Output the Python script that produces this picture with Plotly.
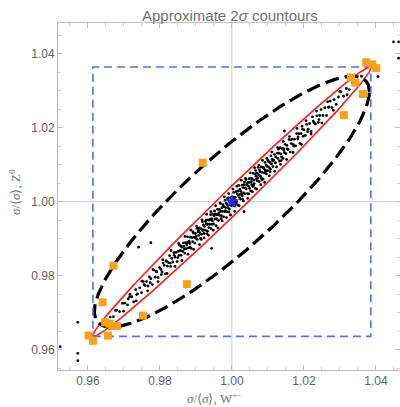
import numpy as np
import plotly.graph_objects as go

# ---------------- data ----------------
band_x_p1 = [1.0002,1.0004,1.0005,1.0007,1.0009,1.0010,1.0012,1.0013,1.0015,1.0016,1.0018,1.0019,1.0021,1.0022,1.0024,1.0025,1.0027,1.0028,1.0030,1.0031,1.0033,1.0034,1.0036,1.0037,1.0039,1.0040,1.0042,1.0043,1.0045,1.0046,1.0048,1.0049,1.0050]
band_y_p1 = [1.0013,0.9996,1.0025,0.9988,1.0012,1.0004,1.0027,1.0000,1.0021,0.9991,1.0017,1.0044,1.0011,1.0033,1.0007,1.0028,1.0022,1.0045,1.0006,1.0038,1.0024,1.0046,1.0021,1.0037,1.0060,1.0034,1.0048,1.0022,1.0052,1.0042,1.0062,1.0036,1.0052]
band_x_p2 = [1.0052,1.0053,1.0055,1.0056,1.0058,1.0059,1.0061,1.0062,1.0064,1.0065,1.0067,1.0068,1.0070,1.0071,1.0073,1.0074,1.0076,1.0078,1.0079,1.0081,1.0082,1.0084,1.0086,1.0087,1.0089,1.0090,1.0092,1.0093,1.0095,1.0096,1.0098,1.0099]
band_y_p2 = [1.0029,1.0063,1.0046,1.0062,1.0041,1.0077,1.0058,1.0049,1.0075,1.0036,1.0069,1.0061,1.0077,1.0056,1.0093,1.0073,1.0054,1.0081,1.0069,1.0094,1.0064,1.0079,1.0093,1.0061,1.0089,1.0078,1.0106,1.0085,1.0099,1.0075,1.0096,1.0084]
band_x_p3 = [1.0101,1.0103,1.0105,1.0106,1.0108,1.0110,1.0112,1.0114,1.0116,1.0118,1.0120,1.0122,1.0124,1.0126,1.0128,1.0130,1.0132,1.0134,1.0136,1.0138,1.0140,1.0142,1.0144,1.0146,1.0148,1.0150]
band_y_p3 = [1.0109,1.0093,1.0106,1.0081,1.0124,1.0102,1.0115,1.0095,1.0112,1.0128,1.0105,1.0121,1.0094,1.0131,1.0117,1.0131,1.0110,1.0146,1.0129,1.0121,1.0144,1.0117,1.0140,1.0133,1.0155,1.0130]
band_x_p4 = [1.0153,1.0156,1.0159,1.0162,1.0165,1.0168,1.0171,1.0174,1.0177,1.0180,1.0183,1.0186,1.0189,1.0192,1.0195,1.0198,1.0200]
band_y_p4 = [1.0152,1.0141,1.0168,1.0134,1.0157,1.0169,1.0154,1.0169,1.0151,1.0184,1.0170,1.0184,1.0158,1.0184,1.0204,1.0177,1.0194]
band_x_p5 = [1.0204,1.0208,1.0212,1.0216,1.0220,1.0224,1.0228,1.0232,1.0236,1.0240,1.0244,1.0248]
band_y_p5 = [1.0179,1.0209,1.0196,1.0211,1.0190,1.0229,1.0214,1.0210,1.0232,1.0214,1.0233,1.0249]
band_x_p6 = [1.0253,1.0258,1.0263,1.0268,1.0273,1.0278,1.0284,1.0290,1.0296,1.0303,1.0310,1.0318,1.0326,1.0335,1.0346,1.0360]
band_y_p6 = [1.0233,1.0254,1.0233,1.0255,1.0272,1.0254,1.0276,1.0263,1.0283,1.0297,1.0285,1.0306,1.0303,1.0321,1.0327,1.0339]
band_x_n1 = [0.9999,0.9997,0.9995,0.9994,0.9992,0.9990,0.9989,0.9987,0.9986,0.9984,0.9983,0.9981,0.9980,0.9978,0.9977,0.9975,0.9974,0.9972,0.9971,0.9969,0.9968,0.9966,0.9965,0.9963,0.9962,0.9960,0.9959,0.9957,0.9956,0.9954,0.9953,0.9951]
band_y_n1 = [0.9989,1.0011,0.9992,1.0000,0.9972,1.0010,0.9984,0.9992,0.9973,0.9996,0.9984,1.0004,0.9973,0.9986,0.9959,0.9992,0.9974,0.9983,0.9962,0.9974,0.9995,0.9963,0.9979,0.9949,0.9965,0.9979,0.9952,0.9965,0.9935,0.9967,0.9953,0.9962]
band_x_n2 = [0.9949,0.9947,0.9946,0.9944,0.9942,0.9941,0.9939,0.9937,0.9936,0.9934,0.9933,0.9931,0.9929,0.9928,0.9926,0.9924,0.9923,0.9921,0.9919,0.9918,0.9916,0.9914,0.9913,0.9911,0.9909,0.9908,0.9906,0.9904,0.9903,0.9901]
band_y_n2 = [0.9940,0.9966,0.9948,0.9954,0.9927,0.9965,0.9939,0.9950,0.9930,0.9951,0.9939,0.9913,0.9939,0.9950,0.9923,0.9933,0.9914,0.9937,0.9922,0.9946,0.9912,0.9927,0.9901,0.9916,0.9929,0.9909,0.9918,0.9898,0.9928,0.9906]
band_x_n3 = [0.9899,0.9897,0.9895,0.9893,0.9891,0.9889,0.9887,0.9885,0.9883,0.9881,0.9879,0.9877,0.9875,0.9873,0.9871,0.9869,0.9867,0.9865,0.9863,0.9861,0.9859,0.9857,0.9855,0.9853,0.9851]
band_y_n3 = [0.9914,0.9888,0.9904,0.9915,0.9892,0.9903,0.9874,0.9904,0.9887,0.9893,0.9875,0.9905,0.9883,0.9873,0.9889,0.9861,0.9879,0.9888,0.9866,0.9877,0.9855,0.9868,0.9882,0.9855,0.9866]
band_x_n4 = [0.9848,0.9845,0.9842,0.9839,0.9836,0.9833,0.9830,0.9827,0.9824,0.9821,0.9818,0.9815,0.9812,0.9809,0.9806,0.9803]
band_y_n4 = [0.9838,0.9863,0.9850,0.9862,0.9837,0.9847,0.9825,0.9854,0.9835,0.9826,0.9839,0.9805,0.9828,0.9834,0.9810,0.9817]
band_x_n5 = [0.9799,0.9795,0.9791,0.9787,0.9783,0.9779,0.9775,0.9771,0.9767,0.9763,0.9759,0.9754]
band_y_n5 = [0.9822,0.9795,0.9810,0.9796,0.9815,0.9776,0.9792,0.9797,0.9772,0.9784,0.9773,0.9784]
band_x_n6 = [0.9749,0.9744,0.9738,0.9733,0.9727,0.9722,0.9716,0.9710,0.9703,0.9696,0.9688,0.9680,0.9671,0.9662,0.9650]
band_y_n6 = [0.9754,0.9767,0.9751,0.9762,0.9729,0.9743,0.9743,0.9721,0.9726,0.9725,0.9703,0.9707,0.9689,0.9688,0.9673]
# wider-spread dots at the edges of the band
edge_x_p = [1.0003,1.0008,1.0014,1.0020,1.0026,1.0032,1.0038,1.0044,1.0051,1.0057,1.0063,1.0069,1.0075,1.0080,1.0085,1.0091,1.0097,1.0104,1.0111,1.0119,1.0127,1.0135,1.0143,1.0152,1.0160,1.0170,1.0181,1.0193,1.0206,1.0220,1.0235,1.0250,1.0266,1.0282,1.0300,1.0320]
edge_y_p = [1.0034,0.9974,1.0042,0.9989,1.0058,1.0002,1.0063,1.0009,1.0078,1.0027,1.0092,1.0034,1.0099,1.0046,1.0112,1.0052,1.0117,1.0070,1.0134,1.0082,1.0146,1.0101,1.0163,1.0114,1.0176,1.0133,1.0198,1.0155,1.0219,1.0183,1.0245,1.0213,1.0270,1.0247,1.0298,1.0289]
edge_x_n = [0.9996,0.9991,0.9985,0.9979,0.9973,0.9967,0.9961,0.9955,0.9948,0.9942,0.9935,0.9930,0.9923,0.9917,0.9910,0.9902,0.9894,0.9886,0.9878,0.9870,0.9861,0.9852,0.9842,0.9831,0.9820,0.9808,0.9795,0.9781,0.9766,0.9750,0.9734,0.9717,0.9699,0.9677]
edge_y_n = [0.9964,1.0022,0.9957,1.0013,0.9948,0.9997,0.9929,0.9989,0.9923,0.9973,0.9909,0.9966,0.9902,0.9951,0.9884,0.9934,0.9871,0.9923,0.9858,0.9906,0.9841,0.9887,0.9825,0.9868,0.9806,0.9843,0.9784,0.9817,0.9759,0.9785,0.9732,0.9750,0.9704,0.9706]
# extra dots filling the dense core
core_x_p = [1.0006,1.0011,1.0017,1.0023,1.0029,1.0035,1.0041,1.0047,1.0054,1.0060,1.0066,1.0072,1.0077,1.0083,1.0088,1.0094,1.0100,1.0107,1.0113,1.0121,1.0129,1.0137,1.0145,1.0154,1.0163,1.0172,1.0184,1.0196,1.0210,1.0226,1.0242,1.0270]
core_y_p = [1.0006,0.9995,1.0029,1.0020,1.0016,1.0053,1.0045,1.0021,1.0054,1.0044,1.0084,1.0064,1.0086,1.0059,1.0092,1.0082,1.0112,1.0088,1.0110,1.0105,1.0142,1.0111,1.0143,1.0143,1.0167,1.0150,1.0175,1.0196,1.0189,1.0218,1.0222,1.0256]
core_x_n = [0.9998,0.9993,0.9988,0.9982,0.9976,0.9970,0.9964,0.9958,0.9952,0.9945,0.9940,0.9932,0.9927,0.9920,0.9915,0.9907,0.9900,0.9892,0.9884,0.9876,0.9868,0.9860,0.9850,0.9840,0.9829,0.9817,0.9804,0.9790,0.9773,0.9756,0.9735,0.9712]
core_y_n = [1.0002,0.9980,1.0009,0.9976,0.9987,0.9954,0.9970,0.9954,0.9975,0.9939,0.9952,0.9920,0.9946,0.9924,0.9898,0.9923,0.9901,0.9918,0.9877,0.9889,0.9872,0.9880,0.9849,0.9855,0.9834,0.9840,0.9803,0.9812,0.9781,0.9776,0.9749,0.9737]

outlier_x = [0.9572,0.9523,0.9572,0.9572,0.9741,0.9775,1.0449,1.0463,1.0463,1.0406,1.0146,0.9944,1.0034]
outlier_y = [0.9674,0.9608,0.9590,0.9570,0.9877,0.9889,1.0432,1.0432,1.0388,1.0338,1.0191,0.9874,0.9973]

orange_x = [0.9919,1.0373,1.0390,1.0401,1.0331,1.0343,1.0364,1.0311,
            0.9671,0.9641,0.9875,0.9753,0.9648,0.9667,0.9681,0.9602,0.9614,0.9656,0.9660]
orange_y = [1.0105,1.0377,1.0371,1.0361,1.0336,1.0322,1.0291,1.0234,
            0.9827,0.9728,0.9777,0.9692,0.9674,0.9664,0.9664,0.9638,0.9624,0.9638,0.9670]

center_x = [1.0]
center_y = [1.0]

# 2-sigma contour parameters (sigma_x, sigma_y, correlation)
inner_sig = (0.0193, 0.0182, 0.993)
outer_sig = (0.0191, 0.01695, 0.877)
box_x = [0.9614, 1.0386]
box_y = [0.9636, 1.0364]

x_ticks = [0.96, 0.98, 1.00, 1.02, 1.04]
y_ticks = [0.96, 0.98, 1.00, 1.02, 1.04]

# ------------------------------------------------------------
band_x = (band_x_p1 + band_x_p2 + band_x_p3 + band_x_p4 + band_x_p5 + band_x_p6 +
          band_x_n1 + band_x_n2 + band_x_n3 + band_x_n4 + band_x_n5 + band_x_n6 +
          edge_x_p + edge_x_n + core_x_p + core_x_n)
band_y = (band_y_p1 + band_y_p2 + band_y_p3 + band_y_p4 + band_y_p5 + band_y_p6 +
          band_y_n1 + band_y_n2 + band_y_n3 + band_y_n4 + band_y_n5 + band_y_n6 +
          edge_y_p + edge_y_n + core_y_p + core_y_n)


def contour(params, n=400):
    sx, sy, r = params
    t = np.linspace(0, 2 * np.pi, n)
    ex = center_x[0] + 2 * sx * np.cos(t)
    ey = center_y[0] + 2 * r * sy * np.cos(t) + 2 * sy * np.sqrt(1 - r * r) * np.sin(t)
    return ex, ey


fig = go.Figure()

fig.add_trace(go.Scatter(x=band_x + outlier_x, y=band_y + outlier_y, mode="markers",
                         marker=dict(size=2.8, color="black"), hoverinfo="skip"))

ix, iy = contour(inner_sig)
fig.add_trace(go.Scatter(x=ix, y=iy, mode="lines", line=dict(color="#ff1a1a", width=1.6)))

ox, oy = contour(outer_sig)
fig.add_trace(go.Scatter(x=ox, y=oy, mode="lines",
                         line=dict(color="black", width=3.2, dash="14px,6px")))

fig.add_trace(go.Scatter(x=[box_x[0], box_x[1], box_x[1], box_x[0], box_x[0]],
                         y=[box_y[0], box_y[0], box_y[1], box_y[1], box_y[0]],
                         mode="lines", line=dict(color="#5a6cf0", width=1.6, dash="8px,5px")))

fig.add_trace(go.Scatter(x=orange_x, y=orange_y, mode="markers",
                         marker=dict(symbol="square", size=8, color="#f9a11b")))

fig.add_trace(go.Scatter(x=center_x, y=center_y, mode="markers",
                         marker=dict(symbol="star", size=11, color="#1c2cf0")))

axis_common = dict(
    showgrid=False, zeroline=False, showline=True, linecolor="#bdbdbd", linewidth=1,
    mirror="allticks", ticks="inside", ticklen=5, tickcolor="#bdbdbd", tickwidth=1,
    tickformat=".2f", tickfont=dict(family="Liberation Sans", size=12, color="#606060"),
    minor=dict(ticks="inside", ticklen=3, tickcolor="#cfcfcf", dtick=0.005),
)

fig.update_layout(
    width=400, height=407,
    margin=dict(l=58, r=0, t=23, b=37),
    plot_bgcolor="white", paper_bgcolor="white",
    showlegend=False,
    xaxis=dict(range=[0.9517, 1.0467], tickvals=x_ticks, **axis_common),
    yaxis=dict(range=[0.9545, 1.0483], tickvals=y_ticks, **axis_common),
    shapes=[
        dict(type="line", xref="x", yref="paper", x0=1.0, x1=1.0, y0=0, y1=1,
             line=dict(color="#cccccc", width=1), layer="below"),
        dict(type="line", xref="paper", yref="y", x0=0, x1=1, y0=1.0, y1=1.0,
             line=dict(color="#cccccc", width=1), layer="below"),
    ],
    annotations=[
        dict(text="Approximate 2<i>σ</i> countours", xref="paper", yref="paper",
             x=(230 - 58) / 342, y=(370 - 15) / 347, xanchor="center", yanchor="middle",
             showarrow=False, font=dict(family="Liberation Sans", size=15, color="#707070")),
        dict(text="<i>σ</i>/⟨<i>σ</i>⟩, W<sup>+-</sup>", xref="paper", yref="paper",
             x=(213 - 58) / 342, y=(370 - 398) / 347, xanchor="center", yanchor="middle",
             showarrow=False, font=dict(family="Liberation Serif", size=13, color="#707070")),
        dict(text="<i>σ</i>/⟨<i>σ</i>⟩, Z<sup>0</sup>", xref="paper", yref="paper",
             x=(15 - 58) / 342, y=(370 - 192) / 347, xanchor="center", yanchor="middle",
             textangle=-90, showarrow=False,
             font=dict(family="Liberation Serif", size=13, color="#707070")),
    ],
)

fig.write_html("out.html", config={"displayModeBar": False},
               post_script="document.body.style.margin='0px';")
